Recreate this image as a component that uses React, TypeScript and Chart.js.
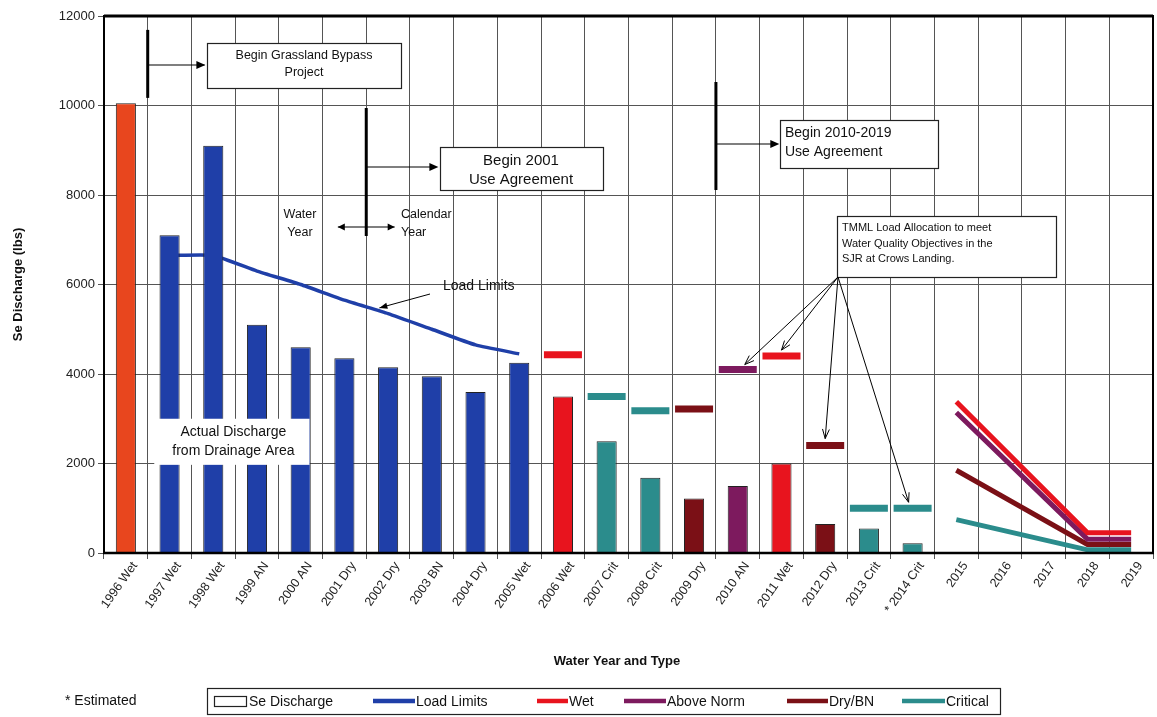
import React, { useEffect, useRef } from 'react';
import { Chart, registerables } from 'chart.js';

Chart.register(...registerables);

const categories = [
  '1996 Wet', '1997 Wet', '1998 Wet', '1999 AN', '2000 AN', '2001 Dry', '2002 Dry', '2003 BN',
  '2004 Dry', '2005 Wet', '2006 Wet', '2007 Crit', '2008 Crit', '2009 Dry', '2010 AN', '2011 Wet',
  '2012 Dry', '2013 Crit', '* 2014 Crit', '2015', '2016', '2017', '2018', '2019',
];

const seDischarge = [
  10050, 7100, 9100, 5100, 4600, 4350, 4150, 3950, 3600, 4250,
  3500, 2500, 1680, 1220, 1500, 2000, 650, 550, 220,
  null, null, null, null, null,
];

const loadLimits = [
  null, 6650, 6650, 6300, 6000, 5650, 5350, 5000, 4650, 4450,
  null, null, null, null, null, null, null, null, null,
  null, null, null, null, null,
];

const tmdlAllocation = [
  null, null, null, null, null, null, null, null, null, null,
  4430, 3500, 3180, 3220, 4100, 4400, 2400, 1000, 1000,
  null, null, null, null, null,
];

const wetLimit = [
  null, null, null, null, null, null, null, null, null, null,
  null, null, null, null, null, null, null, null, null,
  3380, null, null, 450, 450,
];
const aboveNormLimit = [
  null, null, null, null, null, null, null, null, null, null,
  null, null, null, null, null, null, null, null, null,
  3140, null, null, 310, 310,
];
const dryBnLimit = [
  null, null, null, null, null, null, null, null, null, null,
  null, null, null, null, null, null, null, null, null,
  1850, null, null, 190, 190,
];
const criticalLimit = [
  null, null, null, null, null, null, null, null, null, null,
  null, null, null, null, null, null, null, null, null,
  745, null, null, 70, 70,
];

const BLUE = '#1f3fa8';
const WET = '#e8141e';
const EARLY = '#e8461e';
const ABOVE = '#7d1a5e';
const DRY = '#7b1016';
const CRIT = '#2b8c8c';

const barColors = [
  EARLY, BLUE, BLUE, BLUE, BLUE, BLUE, BLUE, BLUE, BLUE, BLUE,
  WET, CRIT, CRIT, DRY, ABOVE, WET, DRY, CRIT, CRIT,
  BLUE, BLUE, BLUE, BLUE, BLUE,
];
const tmdlColors = [
  WET, WET, WET, WET, WET, WET, WET, WET, WET, WET,
  WET, CRIT, CRIT, DRY, ABOVE, WET, DRY, CRIT, CRIT,
  WET, WET, WET, WET, WET,
];

const FONT = '"Liberation Sans", Arial, sans-serif';

function drawLine(ctx, x1, y1, x2, y2, lw, color = '#000') {
  ctx.save();
  ctx.strokeStyle = color;
  ctx.lineWidth = lw;
  ctx.beginPath();
  ctx.moveTo(x1, y1);
  ctx.lineTo(x2, y2);
  ctx.stroke();
  ctx.restore();
}

function filledHead(ctx, x1, y1, x2, y2, len = 9, half = 4) {
  const a = Math.atan2(y2 - y1, x2 - x1);
  ctx.save();
  ctx.fillStyle = '#000';
  ctx.beginPath();
  ctx.moveTo(x2, y2);
  ctx.lineTo(x2 - len * Math.cos(a) + half * Math.sin(a), y2 - len * Math.sin(a) - half * Math.cos(a));
  ctx.lineTo(x2 - len * Math.cos(a) - half * Math.sin(a), y2 - len * Math.sin(a) + half * Math.cos(a));
  ctx.closePath();
  ctx.fill();
  ctx.restore();
}

function openHead(ctx, x1, y1, x2, y2, len = 10, spread = 0.35) {
  const a = Math.atan2(y2 - y1, x2 - x1);
  ctx.save();
  ctx.strokeStyle = '#000';
  ctx.lineWidth = 1;
  ctx.beginPath();
  ctx.moveTo(x2 - len * Math.cos(a - spread), y2 - len * Math.sin(a - spread));
  ctx.lineTo(x2, y2);
  ctx.lineTo(x2 - len * Math.cos(a + spread), y2 - len * Math.sin(a + spread));
  ctx.stroke();
  ctx.restore();
}

function box(ctx, x, y, w, h) {
  ctx.save();
  ctx.fillStyle = '#fff';
  ctx.fillRect(x, y, w, h);
  ctx.strokeStyle = '#222';
  ctx.lineWidth = 1.2;
  ctx.strokeRect(x + 0.5, y + 0.5, w, h);
  ctx.restore();
}

function text(ctx, s, x, y, size, align = 'left', weight = 'normal') {
  ctx.save();
  ctx.fillStyle = '#111';
  ctx.font = `${weight} ${size}px ${FONT}`;
  ctx.textAlign = align;
  ctx.textBaseline = 'middle';
  ctx.fillText(s, x, y);
  ctx.restore();
}

const annotationPlugin = {
  id: 'annotations',
  afterDatasetsDraw(chart) {
    const ctx = chart.ctx;
    const xs = chart.scales.x;
    const ys = chart.scales.y;
    const X = (i) => xs.getPixelForValue(i);
    const Y = (v) => ys.getPixelForValue(v);

    // Actual discharge label (white box over bars)
    ctx.save();
    ctx.fillStyle = '#fff';
    ctx.fillRect(X(0.65), Y(3000), X(4.2) - X(0.65), Y(1970) - Y(3000));
    ctx.restore();
    text(ctx, 'Actual Discharge', X(2.46), Y(2710), 14, 'center');
    text(ctx, 'from Drainage Area', X(2.46), Y(2280), 14, 'center');

    // Begin Grassland Bypass Project
    drawLine(ctx, X(0.5), Y(11690), X(0.5), Y(10170), 3);
    drawLine(ctx, X(0.5), Y(10905), X(1.8), Y(10905), 1.2);
    filledHead(ctx, X(0.5), Y(10905), X(1.82), Y(10905));
    box(ctx, 207, 43, 194, 45);
    text(ctx, 'Begin Grassland Bypass', 304, 56, 12.5, 'center');
    text(ctx, 'Project', 304, 73, 12.5, 'center');

    // Begin 2001 Use Agreement
    drawLine(ctx, X(5.5), Y(9944), X(5.5), Y(7084), 3);
    drawLine(ctx, X(5.5), Y(8626), X(7.1), Y(8626), 1.2);
    filledHead(ctx, X(5.5), Y(8626), X(7.15), Y(8626));
    box(ctx, 440, 147, 163, 43);
    text(ctx, 'Begin 2001', 521, 161, 15, 'center');
    text(ctx, 'Use Agreement', 521, 180, 15, 'center');

    // Water Year / Calendar Year
    text(ctx, 'Water', 300, 215, 12.5, 'center');
    text(ctx, 'Year', 300, 233, 12.5, 'center');
    text(ctx, 'Calendar', 401, 215, 12.5, 'left');
    text(ctx, 'Year', 401, 233, 12.5, 'left');
    drawLine(ctx, X(4.85), Y(7285), X(6.15), Y(7285), 1.2);
    filledHead(ctx, X(6.0), Y(7285), X(4.85), Y(7285), 7, 3.5);
    filledHead(ctx, X(5.0), Y(7285), X(6.15), Y(7285), 7, 3.5);

    // Begin 2010-2019 Use Agreement
    drawLine(ctx, X(13.5), Y(10525), X(13.5), Y(8112), 3);
    drawLine(ctx, X(13.5), Y(9140), X(14.9), Y(9140), 1.2);
    filledHead(ctx, X(13.5), Y(9140), X(14.95), Y(9140));
    box(ctx, 780, 120, 158, 48);
    text(ctx, 'Begin 2010-2019', 785, 133, 14, 'left');
    text(ctx, 'Use Agreement', 785, 152, 14, 'left');

    // TMML box and arrows
    box(ctx, 837, 216, 219, 61);
    text(ctx, 'TMML Load Allocation to meet', 842, 228, 11, 'left');
    text(ctx, 'Water Quality Objectives in the', 842, 244, 11, 'left');
    text(ctx, 'SJR at Crows Landing.', 842, 259, 11, 'left');
    const ox = 838;
    const oy = 277;
    const targets = [
      [X(14) + 7, Y(4100) - 5],
      [X(15), Y(4400) - 6],
      [X(16), Y(2400) - 7],
      [X(18) - 4, Y(1000) - 6],
    ];
    targets.forEach(([tx, ty]) => {
      drawLine(ctx, ox, oy, tx, ty, 1);
      openHead(ctx, ox, oy, tx, ty);
    });

    // Load Limits label
    text(ctx, 'Load Limits', 443, 286, 14, 'left');
    drawLine(ctx, 430, 294, X(5.8), Y(5500) + 1, 1);
    filledHead(ctx, 430, 294, X(5.8), Y(5500) + 1, 8, 3);
  },
  afterDraw(chart) {
    const ctx = chart.ctx;
    const a = chart.chartArea;
    // plot frame
    drawLine(ctx, a.left, a.top, a.right, a.top, 3);
    drawLine(ctx, a.right, a.top - 1, a.right, a.bottom, 2);
    drawLine(ctx, a.left, a.top - 1, a.left, a.bottom, 2);
    drawLine(ctx, a.left - 1, a.bottom, a.right + 1, a.bottom, 2.5);

    // x axis title
    text(ctx, 'Water Year and Type', 617, 661, 13, 'center', 'bold');

    // legend
    text(ctx, '* Estimated', 65, 701, 14, 'left');
    ctx.save();
    ctx.strokeStyle = '#222';
    ctx.lineWidth = 1.2;
    ctx.strokeRect(207.5, 688.5, 793, 26);
    ctx.fillStyle = '#fff';
    ctx.strokeRect(214.5, 696.5, 32, 10);
    ctx.restore();
    text(ctx, 'Se Discharge', 249, 702, 14, 'left');
    const items = [
      [373, 415, BLUE, 'Load Limits'],
      [537, 568, WET, 'Wet'],
      [624, 666, ABOVE, 'Above Norm'],
      [787, 828, DRY, 'Dry/BN'],
      [902, 945, CRIT, 'Critical'],
    ];
    items.forEach(([x1, x2, c, label]) => {
      drawLine(ctx, x1, 701, x2, 701, 4.5, c);
      text(ctx, label, x2 + 1, 702, 14, 'left');
    });
  },
};

export default function App() {
  const ref = useRef(null);
  useEffect(() => {
    document.body.style.margin = '0';
    const lineDs = (label, data, color, order) => ({
      type: 'line',
      label,
      data,
      borderColor: color,
      backgroundColor: color,
      borderWidth: 5,
      pointRadius: 0,
      spanGaps: true,
      tension: 0,
      order,
    });
    const chart = new Chart(ref.current, {
      type: 'bar',
      data: {
        labels: categories,
        datasets: [
          {
            type: 'bar',
            label: 'Se Discharge',
            data: seDischarge,
            backgroundColor: barColors,
            borderColor: '#222',
            borderWidth: 1,
            barPercentage: 0.46,
            categoryPercentage: 1,
            order: 1,
          },
          {
            type: 'line',
            label: 'Load Limits',
            data: loadLimits,
            borderColor: BLUE,
            borderWidth: 3.5,
            pointRadius: 0,
            tension: 0.15,
            order: 5,
          },
          {
            type: 'line',
            label: 'TMDL Allocation',
            data: tmdlAllocation,
            showLine: false,
            pointStyle: 'line',
            pointRadius: 19,
            pointHoverRadius: 19,
            pointBorderWidth: 7,
            pointBorderColor: tmdlColors,
            pointBackgroundColor: tmdlColors,
            order: 2,
          },
          lineDs('Critical', criticalLimit, CRIT, 4),
          lineDs('Dry/BN', dryBnLimit, DRY, 3),
          lineDs('Above Norm', aboveNormLimit, ABOVE, 2),
          lineDs('Wet', wetLimit, WET, 0),
        ],
      },
      options: {
        responsive: false,
        animation: false,
        layout: { autoPadding: false, padding: { left: 0, right: 4, top: 16, bottom: 0 } },
        plugins: {
          legend: { display: false },
          tooltip: { enabled: false },
          title: { display: false },
        },
        scales: {
          x: {
            afterFit: (s) => {
              s.height = 164;
              s.paddingLeft = 0;
              s.paddingRight = 0;
            },
            grid: { offset: true, color: '#555', lineWidth: 1, tickLength: 6, drawTicks: true },
            border: { color: '#000', width: 2 },
            ticks: {
              autoSkip: false,
              maxRotation: 55,
              minRotation: 55,
              padding: 0,
              labelOffset: 9,
              color: '#222',
              font: { family: FONT, size: 12.5 },
            },
          },
          y: {
            min: 0,
            max: 12000,
            afterFit: (s) => {
              s.width = 104;
              s.paddingTop = 0;
              s.paddingBottom = 0;
            },
            grid: { color: '#555', lineWidth: 1, tickLength: 6 },
            border: { color: '#000', width: 2 },
            ticks: {
              stepSize: 2000,
              padding: 3,
              color: '#222',
              font: { family: FONT, size: 13 },
              callback: (v) => String(v),
            },
            title: {
              display: true,
              text: 'Se Discharge (lbs)',
              color: '#111',
              font: { family: FONT, size: 13, weight: 'bold' },
              padding: { top: 11, bottom: 0 },
            },
          },
        },
      },
      plugins: [annotationPlugin],
    });
    return () => chart.destroy();
  }, []);
  return <canvas ref={ref} width={1157} height={717} style={{ display: 'block' }} />;
}
